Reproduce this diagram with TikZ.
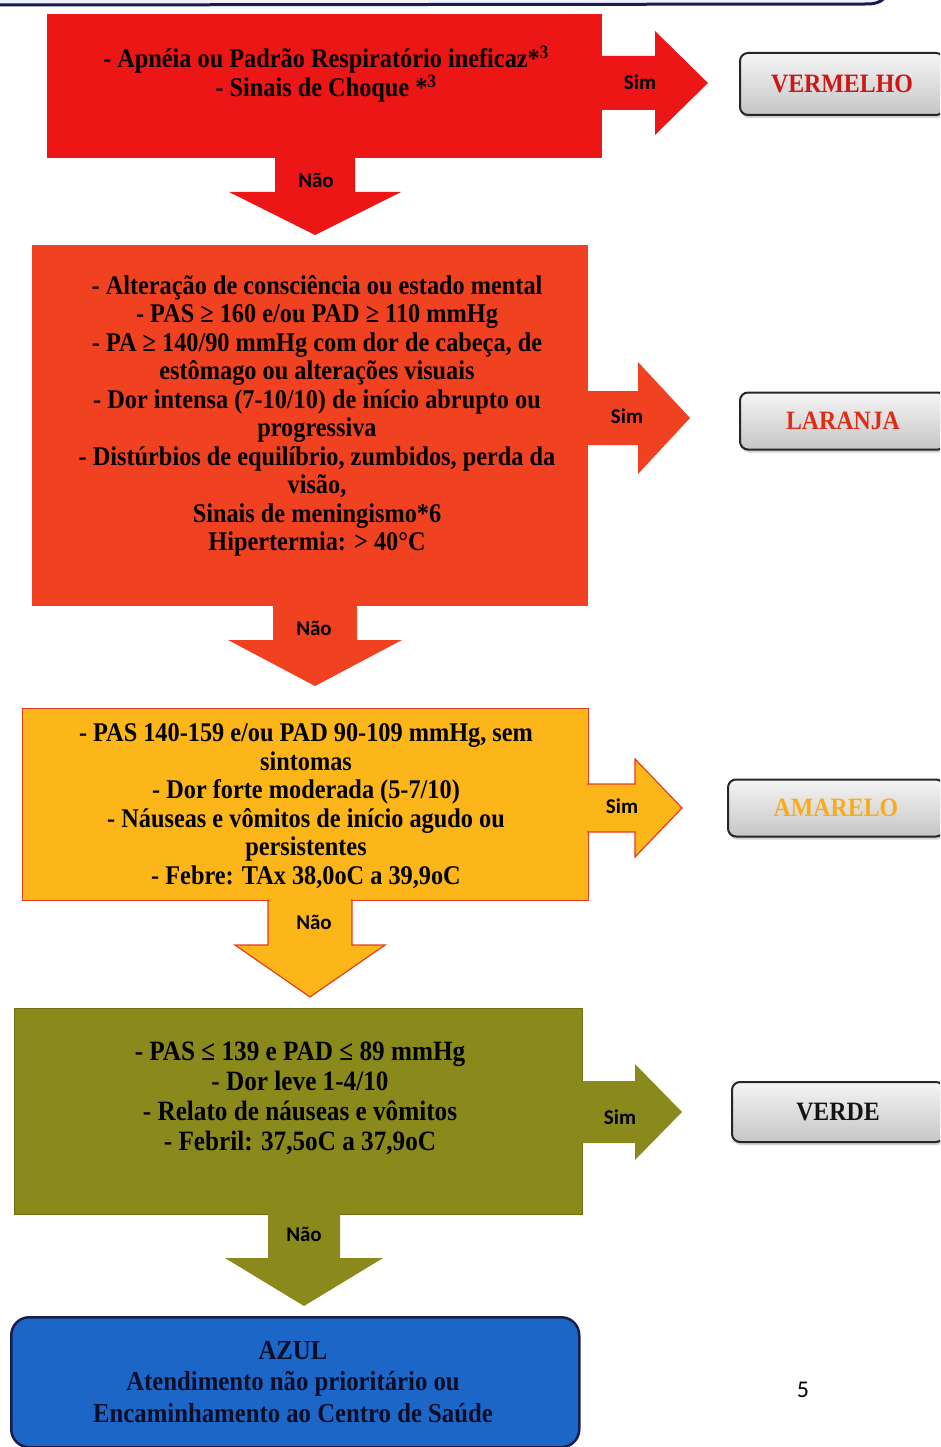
\documentclass[tikz,border=0pt]{standalone}
\usepackage{fontspec}
\setmainfont{Liberation Serif}[FakeStretch=0.9]
\newfontfamily\labelfont{Carlito}
\usetikzlibrary{shadows,calc}

\definecolor{cRed}{RGB}{236,22,22}
\definecolor{cOrange}{RGB}{240,66,32}
\definecolor{cAmber}{RGB}{252,182,26}
\definecolor{cAmberEdge}{RGB}{226,62,30}
\definecolor{cOlive}{RGB}{138,138,28}
\definecolor{cOliveEdge}{RGB}{110,110,20}
\definecolor{cBlue}{RGB}{28,102,200}
\definecolor{cNavy}{RGB}{22,30,78}
\definecolor{txtRed}{RGB}{205,22,22}
\definecolor{txtOrange}{RGB}{222,46,22}
\definecolor{txtAmber}{RGB}{250,172,24}
\definecolor{txtDark}{RGB}{20,20,20}
\definecolor{txtBlue}{RGB}{10,14,40}

% block arrow pointing right: style, start x, centre y, shaft end x, tip x, shaft half, head half
\newcommand{\rightblock}[7]{%
  \path[#1] (#2,{#3-#6}) -- (#4,{#3-#6}) -- (#4,{#3-#7}) -- (#5,#3)
    -- (#4,{#3+#7}) -- (#4,{#3+#6}) -- (#2,{#3+#6}) -- cycle;}
% block arrow pointing down: style, centre x, start y, shaft end y, tip y, shaft half, head half
\newcommand{\downblock}[7]{%
  \path[#1] ({#2-#6},#3) -- ({#2-#6},#4) -- ({#2-#7},#4) -- (#2,#5)
    -- ({#2+#7},#4) -- ({#2+#6},#4) -- ({#2+#6},#3) -- cycle;}

\tikzset{
  panel/.style={rectangle, inner sep=0pt, anchor=north west},
  crit/.style={align=center, inner sep=0pt, text=black,
    font=\fontsize{27}{28.5}\selectfont\bfseries},
  answer/.style={inner sep=0pt, text=black,
    font=\labelfont\bfseries\fontsize{21}{22}\selectfont},
  button/.style={rectangle, rounded corners=8pt, draw=black!85, line width=2pt,
    top color=gray!8, bottom color=gray!45, inner sep=0pt,
    drop shadow={shadow xshift=1pt, shadow yshift=-3pt, opacity=0.35}},
  btntext/.style={inner sep=0pt, font=\fontsize{26.5}{27}\selectfont\bfseries},
}

\begin{document}
\begin{tikzpicture}[x=1pt, y=-1pt]
\useasboundingbox (0,0) rectangle (940,1447);
\clip (0,0) rectangle (940,1447);
\fill[white] (0,0) rectangle (940,1447);

% edge of the panel above
\fill[blue!6] (-5,-20) -- (-5,4) -- (868,4) to[out=0,in=-100] (887,-8) -- (887,-20) -- cycle;
\draw[cNavy, line width=3pt] (-5,5) -- (868,4) to[out=0,in=-100] (887,-8);

% ---------- level 1 : red ----------
\node[panel, fill=cRed, minimum width=555, minimum height=144] (b1) at (47,14) {};
\node[crit, font=\fontsize{27}{27}\selectfont\bfseries] (t1) at (326,74)
  {- Apnéia ou Padrão Respiratório ineficaz*\textsuperscript{3}\\
   - Sinais de Choque *\textsuperscript{3}};
\rightblock{fill=cRed}{598}{83}{655}{708}{27}{52}
\node[answer] (sim1) at (640,82) {Sim};
\node[button, minimum width=204, minimum height=62] (r1) at (842,84) {};
\node[btntext, text=txtRed] at (r1.center) {VERMELHO};
\downblock{fill=cRed}{315}{156}{192}{235}{40}{86}
\node[answer] (nao1) at (316,180) {Não};

% ---------- level 2 : orange ----------
\node[panel, fill=cOrange, minimum width=556, minimum height=361] (b2) at (32,245) {};
\node[crit] (t2) at (317,416)
  {- Alteração de consciência ou estado mental\\
   - PAS ≥ 160 e/ou PAD ≥ 110 mmHg\\
   - PA ≥ 140/90 mmHg com dor de cabeça, de\\
   estômago ou alterações visuais\\
   - Dor intensa (7-10/10) de início abrupto ou\\
   progressiva\\
   - Distúrbios de equilíbrio, zumbidos, perda da\\
   visão,\\
   Sinais de meningismo*6\\
   Hipertermia: > 40°C};
\rightblock{fill=cOrange}{585}{418}{638}{690}{27}{56}
\node[answer] (sim2) at (627,416) {Sim};
\node[button, minimum width=206, minimum height=57] (r2) at (843,421) {};
\node[btntext, text=txtOrange] at (r2.center) {LARANJA};
\downblock{fill=cOrange}{315}{604}{640}{686}{42}{87}
\node[answer] (nao2) at (314,628) {Não};

% ---------- level 3 : amber ----------
\node[panel, fill=cAmber, draw=cAmberEdge, line width=1.2pt,
      minimum width=566, minimum height=192] (b3) at (22,708) {};
\node[crit] (t3) at (306,806)
  {- PAS 140-159 e/ou PAD 90-109 mmHg, sem\\
   sintomas\\
   - Dor forte moderada (5-7/10)\\
   - Náuseas e vômitos de início agudo ou\\
   persistentes\\
   - Febre: TAx 38,0oC a 39,9oC};
\rightblock{fill=cAmber, draw=cAmberEdge, line width=1.2pt}{588}{808}{635}{682}{24}{49}
\fill[cAmber] (586,785) rectangle (590,831);
\node[answer] (sim3) at (622,806) {Sim};
\node[button, minimum width=216, minimum height=57] (r3) at (836,808) {};
\node[btntext, text=txtAmber] at (r3.center) {AMARELO};
\downblock{fill=cAmber, draw=cAmberEdge, line width=1.2pt}{310}{900}{945}{997}{42}{75}
\fill[cAmber] (269,898) rectangle (351,902);
\node[answer] (nao3) at (314,922) {Não};

% ---------- level 4 : olive ----------
\node[panel, fill=cOlive, draw=cOliveEdge, line width=0.8pt,
      minimum width=568, minimum height=206] (b4) at (14,1008) {};
\node[crit, font=\fontsize{28}{30}\selectfont\bfseries] (t4) at (300,1098)
  {- PAS ≤ 139 e PAD ≤ 89 mmHg\\
   - Dor leve 1-4/10\\
   - Relato de náuseas e vômitos\\
   - Febril: 37,5oC a 37,9oC};
\rightblock{fill=cOlive}{580}{1112}{635}{682}{31}{48}
\node[answer] (sim4) at (620,1117) {Sim};
\node[button, minimum width=212, minimum height=60] (r4) at (838,1112) {};
\node[btntext, text=txtDark] at (r4.center) {VERDE};
\downblock{fill=cOlive}{304}{1212}{1258}{1306}{36}{79}
\node[answer] (nao4) at (304,1234) {Não};

% ---------- outcome : blue ----------
\node[panel, fill=cBlue, draw=cNavy, line width=2.5pt, rounded corners=18pt,
      minimum width=568, minimum height=130] (b5) at (10,1316) {};
\node[crit, font=\fontsize{27.5}{31.5}\selectfont\bfseries, text=txtBlue] (t5) at (293,1382)
  {AZUL\\
   Atendimento não prioritário ou\\
   Encaminhamento ao Centro de Saúde};

% page number
\node[inner sep=0pt, font=\labelfont\fontsize{24}{25}\selectfont] (pg) at (803,1390) {5};
\end{tikzpicture}
\end{document}
